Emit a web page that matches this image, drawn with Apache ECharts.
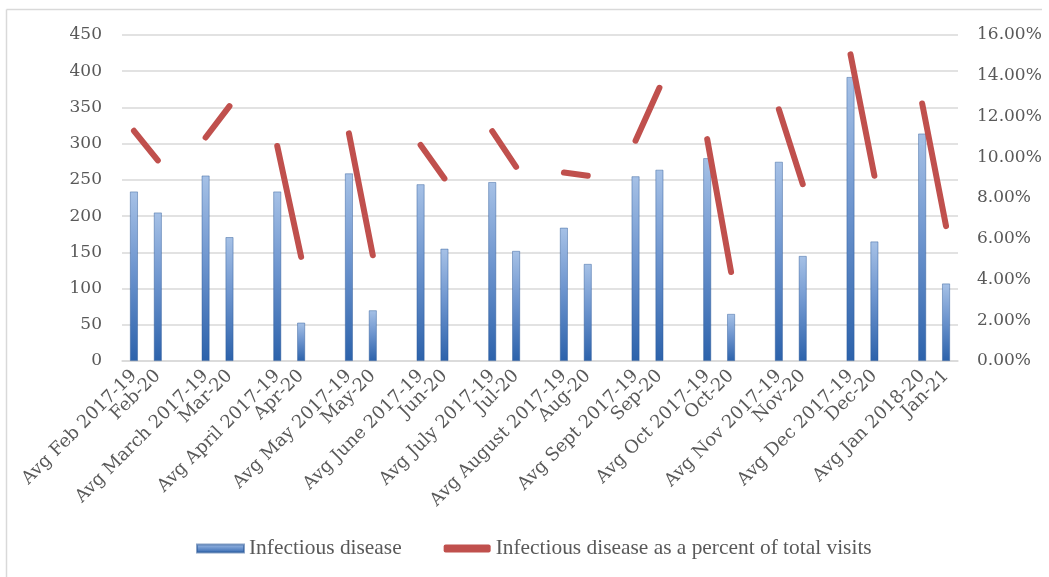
<!DOCTYPE html>
<html>
<head>
<meta charset="utf-8">
<title>Infectious disease visits</title>
<script src="https://cdn.jsdelivr.net/npm/echarts@6/dist/echarts.min.js"></script>
<style>
  html, body { margin: 0; padding: 0; background: #ffffff; }
  #chart { width: 1049px; height: 577px; }
</style>
</head>
<body>
<div id="chart"></div>
<script>
// Paired periods: 2017-19 average next to the matching 2020/21 month
const periodLabels = [
  ['Avg Feb 2017-19', 'Feb-20'],
  ['Avg March 2017-19', 'Mar-20'],
  ['Avg April 2017-19', 'Apr-20'],
  ['Avg May 2017-19', 'May-20'],
  ['Avg June 2017-19', 'Jun-20'],
  ['Avg July 2017-19', 'Jul-20'],
  ['Avg August 2017-19', 'Aug-20'],
  ['Avg Sept 2017-19', 'Sep-20'],
  ['Avg Oct 2017-19', 'Oct-20'],
  ['Avg Nov 2017-19', 'Nov-20'],
  ['Avg Dec 2017-19', 'Dec-20'],
  ['Avg Jan 2018-20', 'Jan-21']
];

// Infectious disease visits (count)
const visitCounts = [
  [234, 205], [256, 171], [234, 53], [259, 70],
  [244, 155], [247, 152], [184, 134], [255, 264],
  [280, 65], [275, 145], [392, 165], [314, 107]
];

// Infectious disease as a share of all visits
const visitShare = [
  [0.1130, 0.0985], [0.1097, 0.1251], [0.1055, 0.0511], [0.1117, 0.0519],
  [0.1060, 0.0896], [0.1128, 0.0953], [0.0925, 0.0909], [0.1081, 0.1341],
  [0.1089, 0.0437], [0.1235, 0.0868], [0.1505, 0.0909], [0.1264, 0.0662]
];

const leftTicks = { min: 0, max: 450, interval: 50 };
const rightTicks = { min: 0, max: 0.16, interval: 0.02 };

// Lay the pairs out on one category axis with an empty slot between pairs
const categories = [];
const barData = [];
const lineData = [];
periodLabels.forEach((pair, i) => {
  if (i > 0) {
    categories.push('');
    barData.push(null);
    lineData.push(null);
  }
  for (let k = 0; k < 2; k++) {
    categories.push(pair[k]);
    barData.push(visitCounts[i][k]);
    lineData.push(visitShare[i][k]);
  }
});

const labelColor = '#595959';
const axisFont = 'DejaVu Serif';

const chart = echarts.init(document.getElementById('chart'), null, { renderer: 'canvas' });

chart.setOption({
  backgroundColor: '#ffffff',
  animation: false,
  graphic: [
    { type: 'line', shape: { x1: 6.5, y1: 9.5, x2: 1042, y2: 9.5 }, style: { stroke: '#d9d9d9', lineWidth: 1.5 } },
    { type: 'line', shape: { x1: 6.5, y1: 9.5, x2: 6.5, y2: 577 }, style: { stroke: '#d9d9d9', lineWidth: 1.5 } }
  ],
  grid: { left: 122, right: 91, top: 35, bottom: 216, containLabel: false },
  legend: {
    left: 196,
    top: 538,
    padding: 0,
    itemWidth: 47,
    itemHeight: 8,
    itemGap: 42,
    textStyle: { fontFamily: 'Liberation Serif', fontSize: 21.4, color: labelColor },
    data: [
      { name: 'Infectious disease', icon: 'rect' },
      { name: 'Infectious disease as a percent of total visits', icon: 'roundRect' }
    ]
  },
  xAxis: {
    type: 'category',
    data: categories,
    axisLine: { lineStyle: { color: '#d9d9d9', width: 1.5 } },
    axisTick: { show: false },
    axisLabel: {
      interval: 0,
      rotate: 45,
      margin: 12,
      fontFamily: axisFont,
      fontSize: 18,
      color: labelColor
    }
  },
  yAxis: [
    {
      type: 'value',
      min: leftTicks.min,
      max: leftTicks.max,
      interval: leftTicks.interval,
      axisLine: { show: false },
      axisTick: { show: false },
      splitLine: { lineStyle: { color: '#d9d9d9', width: 1.5 } },
      axisLabel: { margin: 20, fontFamily: axisFont, fontSize: 17, color: labelColor }
    },
    {
      type: 'value',
      min: rightTicks.min,
      max: rightTicks.max,
      interval: rightTicks.interval,
      axisLine: { show: false },
      axisTick: { show: false },
      splitLine: { show: false },
      axisLabel: {
        margin: 19,
        fontFamily: axisFont,
        fontSize: 17,
        color: labelColor,
        formatter: v => (v * 100).toFixed(2) + '%'
      }
    }
  ],
  series: [
    {
      name: 'Infectious disease',
      type: 'bar',
      yAxisIndex: 0,
      barWidth: 8,
      data: barData,
      itemStyle: {
        color: new echarts.graphic.LinearGradient(0, 0, 0, 1, [
          { offset: 0, color: '#a6c1e6' },
          { offset: 0.45, color: '#6f96cf' },
          { offset: 1, color: '#2c62ab' }
        ]),
        borderColor: 'rgba(40,85,150,0.55)',
        borderWidth: 0.8
      },
      z: 2
    },
    {
      name: 'Infectious disease as a percent of total visits',
      type: 'line',
      yAxisIndex: 1,
      data: lineData,
      connectNulls: false,
      showSymbol: false,
      symbol: 'none',
      color: '#c0504d',
      lineStyle: { color: '#c0504d', width: 6, cap: 'round', join: 'round' },
      itemStyle: { color: '#c0504d' },
      z: 3
    }
  ]
});
</script>
</body>
</html>
